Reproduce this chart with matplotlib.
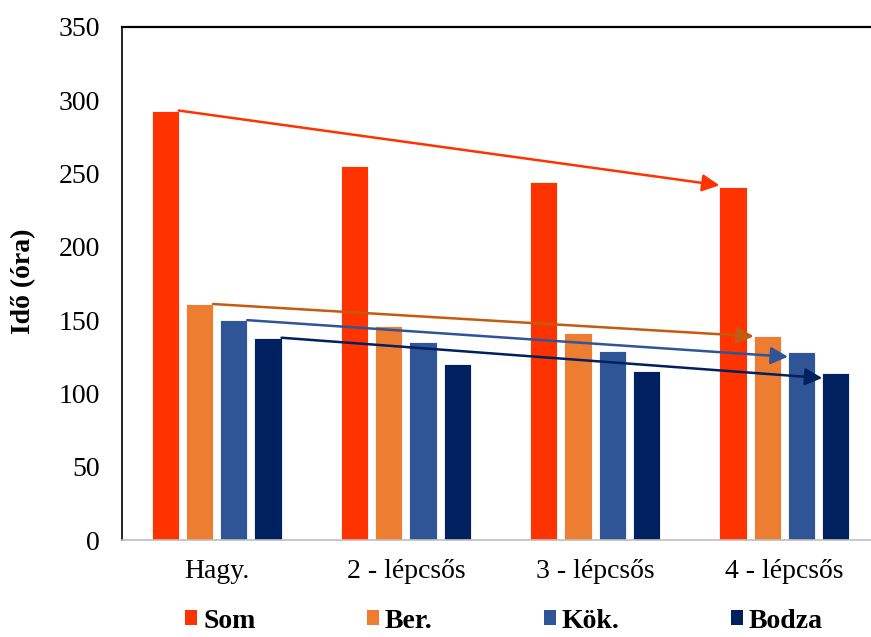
import numpy as np
import matplotlib
matplotlib.use("Agg")
import matplotlib.pyplot as plt
from matplotlib.patches import Patch

plt.rcParams['font.family'] = ['Liberation Serif', 'DejaVu Serif']

categories = ["Hagy.", "2 - lépcsős", "3 - lépcsős", "4 - lépcsős"]
series = ["Som", "Ber.", "Kök.", "Bodza"]
som = [293, 255, 244, 241]
ber = [161, 146, 141, 139]
kok = [150, 135, 129, 128]
bodza = [138, 120, 115, 114]
# where each trend arrow points to on the last group
trend_end = [242, 139, 125, 110.5]

bar_colors = ["#FF3300", "#ED7D31", "#2F5597", "#002060"]
arrow_colors = ["#FF3300", "#C55A11", "#2F5597", "#002060"]

fig = plt.figure(figsize=(8.71, 6.37), dpi=100)
ax = fig.add_axes([122 / 871, 1 - 540 / 637, 757 / 871, 513 / 637])

x = np.arange(len(categories))
width = 0.143
step = 0.181
offsets = [-1.5 * step, -0.5 * step, 0.5 * step, 1.5 * step]

for vals, off, col in zip([som, ber, kok, bodza], offsets, bar_colors):
    ax.bar(x + off, vals, width, color=col, edgecolor="white", linewidth=0.6, zorder=2)

# trend arrows from the first group to the last one
for vals, off, end, col in zip([som, ber, kok, bodza], offsets, trend_end, arrow_colors):
    start = (x[0] + off + width / 2, vals[0])
    stop = (x[-1] + off - width / 2, end)
    ax.annotate("", xy=stop, xytext=start,
                arrowprops=dict(arrowstyle="-|>", color=col, lw=1.8,
                                mutation_scale=26, shrinkA=0, shrinkB=0),
                zorder=3)

ax.set_xlim(-0.5, len(categories) - 0.5)
ax.set_ylim(0, 350)
ax.set_yticks(range(0, 351, 50))
ax.set_xticks(x)
ax.set_xticklabels(categories)
ax.tick_params(axis="y", length=0, pad=16, labelsize=20)
ax.tick_params(axis="x", length=0, pad=14, labelsize=20)

ax.spines["left"].set_color("black")
ax.spines["left"].set_linewidth(1.2)
ax.spines["top"].set_color("black")
ax.spines["top"].set_linewidth(1.6)
ax.spines["bottom"].set_color("#BFBFBF")
ax.spines["bottom"].set_linewidth(1.2)
ax.spines["right"].set_visible(False)

fig.text(24 / 871, 1 - 281 / 637, "Idő (óra)", rotation=90, fontsize=20,
         fontweight="bold", ha="center", va="center")

handles = [Patch(facecolor=c) for c in bar_colors]
fig.legend(handles, series, loc="center", ncol=4, frameon=False,
           bbox_to_anchor=(504 / 871, 1 - 621 / 637),
           prop=dict(size=20, weight="bold"),
           handlelength=0.43, handleheight=0.43, handletextpad=0.22,
           columnspacing=4.0, borderpad=0)

fig.savefig("out.png", dpi=100)
